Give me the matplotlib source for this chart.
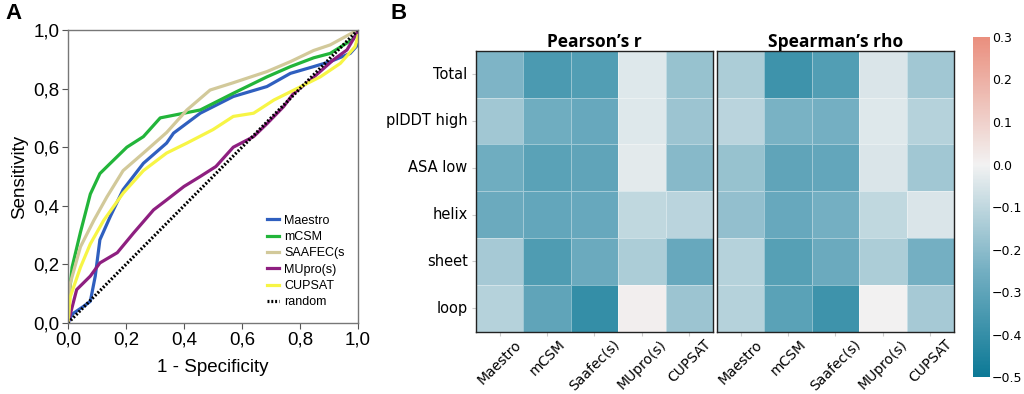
import numpy as np
import matplotlib
matplotlib.use("Agg")
import matplotlib.pyplot as plt
import matplotlib.ticker as mticker
from matplotlib.colors import LinearSegmentedColormap
import seaborn as sns

# ROC curves
maestro_fpr = [0, 0.014, 0.054, 0.077, 0.094, 0.11, 0.146, 0.19, 0.26, 0.34, 0.364, 0.456, 0.57, 0.686, 0.767, 0.847, 0.904, 0.973, 1.0]
maestro_tpr = [0, 0.03, 0.057, 0.074, 0.16, 0.284, 0.364, 0.455, 0.545, 0.614, 0.648, 0.716, 0.773, 0.807, 0.852, 0.875, 0.892, 0.92, 0.95]
mcsm_fpr = [0, 0.014, 0.043, 0.077, 0.11, 0.146, 0.203, 0.26, 0.318, 0.40, 0.456, 0.57, 0.686, 0.767, 0.847, 0.904, 0.985, 1.0]
mcsm_tpr = [0.05, 0.19, 0.31, 0.44, 0.51, 0.545, 0.60, 0.636, 0.70, 0.716, 0.727, 0.784, 0.84, 0.875, 0.905, 0.92, 0.97, 1.0]
saafec_fpr = [0, 0.008, 0.043, 0.089, 0.134, 0.19, 0.26, 0.34, 0.41, 0.49, 0.57, 0.686, 0.767, 0.847, 0.904, 0.98, 1.0]
saafec_tpr = [0.02, 0.136, 0.26, 0.35, 0.43, 0.52, 0.58, 0.65, 0.727, 0.795, 0.82, 0.858, 0.892, 0.93, 0.949, 0.99, 1.0]
mupro_fpr = [0, 0.03, 0.077, 0.11, 0.17, 0.226, 0.295, 0.34, 0.40, 0.456, 0.51, 0.57, 0.64, 0.686, 0.744, 0.778, 0.836, 0.915, 0.962, 0.996, 1.0]
mupro_tpr = [0, 0.114, 0.16, 0.205, 0.24, 0.307, 0.386, 0.42, 0.466, 0.50, 0.534, 0.60, 0.636, 0.68, 0.739, 0.784, 0.829, 0.898, 0.932, 0.989, 1.0]
cupsat_fpr = [0, 0.008, 0.043, 0.077, 0.123, 0.19, 0.26, 0.34, 0.41, 0.50, 0.57, 0.64, 0.71, 0.767, 0.87, 0.939, 0.99, 1.0]
cupsat_tpr = [0, 0.09, 0.19, 0.27, 0.35, 0.443, 0.52, 0.58, 0.614, 0.66, 0.705, 0.716, 0.761, 0.789, 0.84, 0.886, 0.943, 0.98]

# correlation heatmaps (panel B)
rows = ["Total", "plDDT high", "ASA low", "helix", "sheet", "loop"]
tools = ["Maestro", "mCSM", "Saafec(s)", "MUpro(s)", "CUPSAT"]
pearson = [
    [-0.23, -0.35, -0.33, -0.04, -0.18],
    [-0.16, -0.26, -0.28, -0.04, -0.17],
    [-0.26, -0.31, -0.30, -0.03, -0.21],
    [-0.27, -0.29, -0.28, -0.10, -0.11],
    [-0.15, -0.34, -0.27, -0.14, -0.28],
    [-0.12, -0.30, -0.40, 0.01, -0.17],
]
spearman = [
    [-0.14, -0.38, -0.33, -0.05, -0.16],
    [-0.11, -0.24, -0.25, -0.04, -0.12],
    [-0.18, -0.30, -0.29, -0.05, -0.16],
    [-0.19, -0.28, -0.25, -0.10, -0.05],
    [-0.12, -0.32, -0.27, -0.14, -0.25],
    [-0.12, -0.31, -0.38, 0.00, -0.15],
]

fig = plt.figure(figsize=(10.24, 3.94), dpi=100)

# ---- panel A ----
ax = fig.add_axes([0.0664, 0.1802, 0.2832, 0.7437])
ax.plot(maestro_fpr, maestro_tpr, color="#2f5fbf", lw=2.3, label="Maestro")
ax.plot(mcsm_fpr, mcsm_tpr, color="#22b53a", lw=2.3, label="mCSM")
ax.plot(saafec_fpr, saafec_tpr, color="#d2c99a", lw=2.3, label="SAAFEC(s")
ax.plot(mupro_fpr, mupro_tpr, color="#8e1f80", lw=2.3, label="MUpro(s)")
ax.plot(cupsat_fpr, cupsat_tpr, color="#f7f545", lw=2.3, label="CUPSAT")
ax.plot([0, 1], [0, 1], color="black", lw=2.3, ls=(0, (0.6, 0.6)), label="random")
ax.set_xlim(0, 1)
ax.set_ylim(0, 1)
ticks = [0, 0.2, 0.4, 0.6, 0.8, 1.0]
ax.set_xticks(ticks)
ax.set_yticks(ticks)
fmt = mticker.FuncFormatter(lambda v, p: f"{v:.1f}".replace(".", ","))
ax.xaxis.set_major_formatter(fmt)
ax.yaxis.set_major_formatter(fmt)
for lab in ax.get_xticklabels() + ax.get_yticklabels():
    lab.set_family("Liberation Sans")
    lab.set_fontsize(13.5)
ax.tick_params(direction="out", length=4, color="#555555", pad=2)
for s in ax.spines.values():
    s.set_color("#777777")
    s.set_linewidth(1.0)
ax.set_xlabel("1 - Specificity", family="Liberation Sans", fontsize=13.5, labelpad=8)
ax.set_ylabel("Sensitivity", family="Liberation Sans", fontsize=13.5, labelpad=4)
leg = ax.legend(loc="lower right", frameon=False, prop={"family": "Liberation Sans", "size": 9},
                handlelength=1.0, handletextpad=0.4, labelspacing=0.35,
                borderaxespad=0.3, bbox_to_anchor=(0.985, 0.02))

fig.text(0.005, 0.965, "A", fontsize=16, fontweight="bold", family="Liberation Sans", va="center")
fig.text(0.381, 0.965, "B", fontsize=16, fontweight="bold", family="Liberation Sans", va="center")

# ---- panel B ----
vmin, vmax = -0.5, 0.3
mid = (0 - vmin) / (vmax - vmin)
cmap = LinearSegmentedColormap.from_list(
    "tealsalmon",
    [(0.0, "#0c7996"), (mid * 0.5, "#74afc2"), (mid, "#f2f2f2"), (1.0, "#ea8f7e")])
ax1 = fig.add_axes([0.4648, 0.158, 0.2314, 0.7133])
ax2 = fig.add_axes([0.7002, 0.158, 0.2314, 0.7133])
cax = fig.add_axes([0.9502, 0.0431, 0.0166, 0.863])

sns.heatmap(np.array(pearson), ax=ax1, cmap=cmap, vmin=vmin, vmax=vmax,
            cbar=False, linewidths=0.5, linecolor=(1, 1, 1, 0.4))
sns.heatmap(np.array(spearman), ax=ax2, cmap=cmap, vmin=vmin, vmax=vmax,
            cbar=True, cbar_ax=cax, linewidths=0.5, linecolor=(1, 1, 1, 0.4))

for a, title in [(ax1, "Pearson\u2019s r"), (ax2, "Spearman\u2019s rho")]:
    a.set_title(title, family="Open Sans", fontweight="bold", fontsize=12.5, pad=2)
    a.set_xticks(np.arange(len(tools)) + 0.5)
    a.set_xticklabels(tools, rotation=45, ha="center", fontsize=10)
    a.tick_params(axis="x", length=3, color="#cccccc", pad=1)
    for s in a.spines.values():
        s.set_visible(True)
        s.set_color("#222222")
        s.set_linewidth(1.0)
ax1.set_yticks(np.arange(len(rows)) + 0.5)
ax1.set_yticklabels(rows, rotation=0, fontsize=10.5)
ax1.tick_params(axis="y", length=3, color="#cccccc", pad=3)
ax2.set_yticks([])

cax.set_yticks([0.3, 0.2, 0.1, 0.0, -0.1, -0.2, -0.3, -0.4, -0.5])
cax.tick_params(length=0, labelsize=9, pad=1.5)
ax2.collections[0].colorbar.outline.set_visible(False)

fig.savefig("out.png", dpi=100)
